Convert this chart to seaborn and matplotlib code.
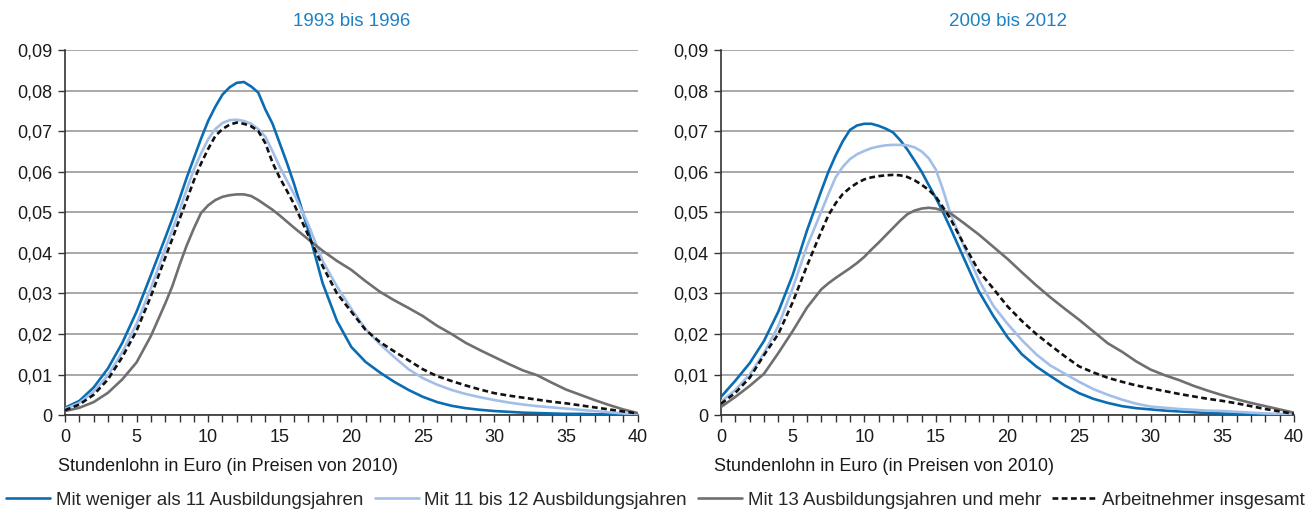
import matplotlib
matplotlib.use("Agg")
import matplotlib.pyplot as plt
from matplotlib.ticker import MultipleLocator, FuncFormatter
import seaborn as sns
import pandas as pd

# Stundenlohn-Raster (Euro), im Gipfelbereich feiner
lohn = [0, 1, 2, 3, 4, 5, 6, 7,
        7.5, 8, 8.5, 9, 9.5, 10, 10.5, 11, 11.5, 12, 12.5, 13, 13.5, 14, 14.5, 15, 15.5, 16,
        17, 18, 19, 20, 21, 22, 23, 24, 25, 26, 27, 28, 29, 30,
        31, 32, 33, 34, 35, 36, 37, 38, 39, 40]

# --- 1993 bis 1996 ---
weniger_11_a = [0.0018, 0.0035, 0.0068, 0.0115, 0.0178, 0.0255, 0.0345, 0.0437,
                0.0484, 0.0533, 0.0585, 0.0633, 0.0681, 0.0725, 0.0760, 0.0790, 0.0808, 0.0819,
                0.0821, 0.0810, 0.0795, 0.0753, 0.0718, 0.0670, 0.0622, 0.0570,
                0.0455, 0.0325, 0.0232, 0.0168, 0.0131, 0.0105, 0.0082, 0.0062, 0.0045, 0.0032,
                0.0023, 0.0017, 0.0013, 0.0010, 0.0008, 0.0006, 0.0005, 0.0004, 0.0003, 0.0003,
                0.0002, 0.0002, 0.0001, 0.0000]
elf_zwoelf_a = [0.0015, 0.0030, 0.0058, 0.0098, 0.0155, 0.0225, 0.0313, 0.0410,
                0.0457, 0.0505, 0.0556, 0.0605, 0.0645, 0.0680, 0.0705, 0.0720, 0.0727, 0.0728,
                0.0725, 0.0718, 0.0705, 0.0686, 0.0650, 0.0612, 0.0578, 0.0545,
                0.0470, 0.0380, 0.0317, 0.0262, 0.0212, 0.0175, 0.0143, 0.0113, 0.0091, 0.0075,
                0.0062, 0.0052, 0.0044, 0.0037, 0.0031, 0.0026, 0.0022, 0.0019, 0.0016, 0.0013,
                0.0010, 0.0007, 0.0004, 0.0002]
ab_13_a = [0.0010, 0.0018, 0.0032, 0.0055, 0.0088, 0.0130, 0.0195, 0.0275,
           0.0318, 0.0370, 0.0418, 0.0460, 0.0498, 0.0517, 0.0530, 0.0538, 0.0542, 0.0544,
           0.0544, 0.0540, 0.0530, 0.0518, 0.0506, 0.0492, 0.0477, 0.0462,
           0.0433, 0.0405, 0.0380, 0.0358, 0.0330, 0.0304, 0.0283, 0.0264, 0.0244, 0.0220,
           0.0200, 0.0178, 0.0160, 0.0143, 0.0126, 0.0110, 0.0098, 0.0080, 0.0063, 0.0050,
           0.0037, 0.0025, 0.0014, 0.0005]
gesamt_a = [0.0012, 0.0026, 0.0050, 0.0088, 0.0143, 0.0208, 0.0293, 0.0388,
            0.0435, 0.0483, 0.0530, 0.0578, 0.0620, 0.0656, 0.0688, 0.0705, 0.0716, 0.0721,
            0.0718, 0.0712, 0.0700, 0.0670, 0.0622, 0.0585, 0.0553, 0.0520,
            0.0443, 0.0367, 0.0300, 0.0255, 0.0210, 0.0180, 0.0157, 0.0135, 0.0113, 0.0096,
            0.0084, 0.0073, 0.0063, 0.0054, 0.0048, 0.0043, 0.0038, 0.0033, 0.0029, 0.0024,
            0.0019, 0.0014, 0.0009, 0.0004]

# --- 2009 bis 2012 ---
weniger_11_b = [0.0045, 0.0085, 0.0128, 0.0183, 0.0255, 0.0345, 0.0455, 0.0553,
                0.0600, 0.0640, 0.0675, 0.0703, 0.0714, 0.0718, 0.0718, 0.0713, 0.0706, 0.0697,
                0.0678, 0.0655, 0.0628, 0.0600, 0.0567, 0.0535, 0.0500, 0.0462,
                0.0383, 0.0305, 0.0245, 0.0192, 0.0150, 0.0120, 0.0096, 0.0073, 0.0054, 0.0040,
                0.0030, 0.0022, 0.0017, 0.0014, 0.0011, 0.0009, 0.0007, 0.0005, 0.0004, 0.0003,
                0.0002, 0.0002, 0.0001, 0.0001]
elf_zwoelf_b = [0.0033, 0.0062, 0.0100, 0.0153, 0.0220, 0.0313, 0.0416, 0.0502,
                0.0545, 0.0586, 0.0612, 0.0631, 0.0643, 0.0651, 0.0658, 0.0662, 0.0665, 0.0666,
                0.0666, 0.0665, 0.0660, 0.0650, 0.0633, 0.0605, 0.0555, 0.0498,
                0.0412, 0.0333, 0.0270, 0.0225, 0.0185, 0.0150, 0.0122, 0.0102, 0.0082, 0.0064,
                0.0050, 0.0038, 0.0028, 0.0021, 0.0018, 0.0015, 0.0013, 0.0011, 0.0010, 0.0008,
                0.0006, 0.0004, 0.0003, 0.0002]
ab_13_b = [0.0020, 0.0045, 0.0072, 0.0102, 0.0153, 0.0207, 0.0265, 0.0310,
           0.0325, 0.0338, 0.0350, 0.0362, 0.0375, 0.0390, 0.0408, 0.0425, 0.0443, 0.0461,
           0.0479, 0.0495, 0.0504, 0.0509, 0.0511, 0.0509, 0.0504, 0.0498,
           0.0472, 0.0445, 0.0415, 0.0385, 0.0352, 0.0320, 0.0290, 0.0262, 0.0235, 0.0206,
           0.0177, 0.0156, 0.0132, 0.0112, 0.0098, 0.0086, 0.0072, 0.0060, 0.0049, 0.0039,
           0.0030, 0.0022, 0.0014, 0.0006]
gesamt_b = [0.0028, 0.0055, 0.0092, 0.0148, 0.0200, 0.0278, 0.0368, 0.0453,
            0.0493, 0.0522, 0.0545, 0.0560, 0.0572, 0.0581, 0.0586, 0.0589, 0.0591, 0.0592,
            0.0591, 0.0587, 0.0579, 0.0568, 0.0555, 0.0538, 0.0512, 0.0485,
            0.0418, 0.0355, 0.0312, 0.0268, 0.0232, 0.0200, 0.0172, 0.0145, 0.0120, 0.0105,
            0.0092, 0.0082, 0.0073, 0.0066, 0.0059, 0.0052, 0.0046, 0.0040, 0.0035, 0.0029,
            0.0022, 0.0015, 0.0009, 0.0003]

gruppen = ["Mit weniger als 11 Ausbildungsjahren",
           "Mit 11 bis 12 Ausbildungsjahren",
           "Mit 13 Ausbildungsjahren und mehr",
           "Arbeitnehmer insgesamt"]
perioden = ["1993 bis 1996", "2009 bis 2012"]
y_ticks = [0, 0.01, 0.02, 0.03, 0.04, 0.05, 0.06, 0.07, 0.08, 0.09]
x_ticks = [0, 5, 10, 15, 20, 25, 30, 35, 40]

werte = {
    perioden[0]: [weniger_11_a, elf_zwoelf_a, ab_13_a, gesamt_a],
    perioden[1]: [weniger_11_b, elf_zwoelf_b, ab_13_b, gesamt_b],
}

rows = []
for periode, serien in werte.items():
    for gruppe, serie in zip(gruppen, serien):
        for x, y in zip(lohn, serie):
            rows.append({"periode": periode, "gruppe": gruppe, "lohn": x, "dichte": y})
df = pd.DataFrame(rows)

sns.set_style("white")
plt.rcParams["font.family"] = ["Liberation Sans", "DejaVu Sans"]

farben = {gruppen[0]: "#0a6db3", gruppen[1]: "#a3bfe8",
          gruppen[2]: "#6f6f6f", gruppen[3]: "#111111"}
striche = {gruppen[0]: "", gruppen[1]: "", gruppen[2]: "", gruppen[3]: (2.2, 1.3)}

fig = plt.figure(figsize=(13.11, 5.15), dpi=100)
rects = [[0.0496, 0.194, 0.4367, 0.709], [0.55, 0.194, 0.437, 0.709]]

for rect, periode in zip(rects, perioden):
    ax = fig.add_axes(rect)
    sub = df[df["periode"] == periode]
    sns.lineplot(data=sub, x="lohn", y="dichte", hue="gruppe", style="gruppe",
                 hue_order=gruppen, style_order=gruppen, palette=farben, dashes=striche,
                 linewidth=1.9, ax=ax, legend=True, zorder=3)
    ax.set_xlim(0, 40)
    ax.set_ylim(0, 0.09)
    ax.set_xticks(x_ticks)
    ax.set_yticks(y_ticks)
    ax.xaxis.set_minor_locator(MultipleLocator(1))
    ax.yaxis.set_major_formatter(FuncFormatter(lambda v, p: "0" if v == 0 else f"{v:.2f}".replace(".", ",")))
    ax.tick_params(axis="both", which="both", direction="out", length=5, width=1,
                   color="#333333", labelsize=13, labelcolor="#1a1a1a")
    ax.tick_params(axis="x", which="both", bottom=True, pad=5)
    ax.tick_params(axis="y", left=True, pad=4)
    ax.grid(axis="y", color="#9a9a9a", linewidth=1.2, zorder=0)
    ax.set_axisbelow(True)
    for s in ["top", "right"]:
        ax.spines[s].set_visible(False)
    for s in ["left", "bottom"]:
        ax.spines[s].set_color("#333333")
        ax.spines[s].set_linewidth(1.2)
    ax.set_xlabel("")
    ax.set_ylabel("")
    ax.text(-0.012, -0.14, "Stundenlohn in Euro (in Preisen von 2010)", transform=ax.transAxes,
            ha="left", va="center", fontsize=13, color="#1a1a1a")
    ax.set_title(periode, color="#1f80c4", fontsize=13.5, pad=17)
    handles, labels = ax.get_legend_handles_labels()
    ax.get_legend().remove()

leg = fig.legend(handles, labels, loc="center", bbox_to_anchor=(0.5, 0.029), ncol=4,
                 frameon=False, fontsize=13.5, handlelength=2.35, columnspacing=0.6,
                 handletextpad=0.3, borderaxespad=0, borderpad=0)
for line in leg.get_lines():
    line.set_linewidth(1.9)

fig.savefig("out.png", dpi=100)
